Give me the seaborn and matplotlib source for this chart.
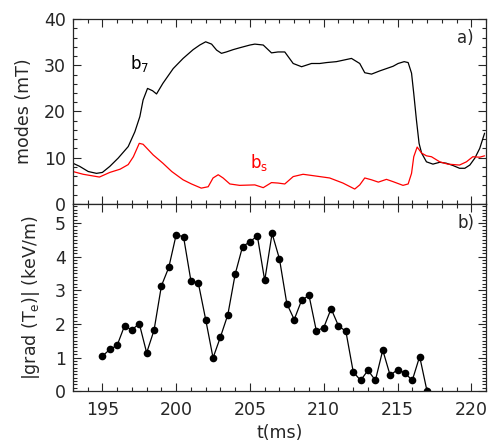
import numpy as np
import pandas as pd
import matplotlib
matplotlib.use("Agg")
import matplotlib.pyplot as plt
from matplotlib.ticker import MultipleLocator
import seaborn as sns

# ---------------------------
# Data
# ---------------------------
t_b7 = [193.0, 193.47, 194.04, 194.6, 195.0, 195.5, 196.07, 196.75, 197.2, 197.54,
        197.76, 198.06, 198.4, 198.67, 199.1, 199.8, 200.47, 201.15, 201.6, 202.0,
        202.4, 202.74, 203.07, 203.4, 203.86, 204.3, 205.0, 205.33, 205.9, 206.46,
        206.9, 207.36, 207.93, 208.5, 209.17, 209.73, 210.19, 210.86, 211.3, 211.88,
        212.44, 212.78, 213.24, 213.8, 214.25, 214.7, 215.04, 215.45, 215.72, 215.95,
        216.1, 216.28, 216.46, 216.63, 216.96, 217.4, 217.86, 218.3, 218.76, 219.2,
        219.56, 219.9, 220.24, 220.57, 220.9]
b7 = [8.8, 8.1, 7.0, 6.6, 6.8, 8.1, 9.9, 12.4, 15.6, 18.9,
      22.5, 25.0, 24.5, 23.8, 26.1, 29.3, 31.5, 33.4, 34.4, 35.1,
      34.6, 33.3, 32.6, 32.9, 33.4, 33.8, 34.4, 34.6, 34.4, 32.7,
      32.9, 32.9, 30.4, 29.7, 30.4, 30.4, 30.6, 30.8, 31.1, 31.5,
      30.4, 28.4, 28.1, 28.8, 29.3, 29.8, 30.4, 30.8, 30.6, 28.3,
      23.9, 18.2, 13.1, 11.0, 9.1, 8.6, 9.0, 8.8, 8.3, 7.7,
      7.7, 8.4, 9.9, 12.0, 15.3]

t_bs = [193.0, 193.7, 194.8, 195.5, 196.2, 196.75, 197.1, 197.5, 197.76, 198.44,
        199.1, 199.7, 200.47, 201.04, 201.7, 202.17, 202.5, 202.85, 203.18, 203.64,
        204.3, 205.33, 205.9, 206.46, 206.9, 207.36, 207.93, 208.6, 209.28, 210.4,
        211.3, 212.1, 212.44, 212.78, 213.24, 213.7, 214.25, 214.7, 215.37, 215.72,
        215.95, 216.1, 216.33, 216.63, 216.96, 217.3, 217.86, 218.4, 219.2, 219.67,
        220.1, 220.57, 220.9]
bs = [7.0, 6.4, 5.8, 6.8, 7.5, 8.5, 10.2, 13.1, 12.9, 10.6,
      8.8, 7.0, 5.2, 4.3, 3.4, 3.7, 5.6, 6.3, 5.6, 4.3,
      4.0, 4.1, 3.5, 4.6, 4.5, 4.3, 5.9, 6.4, 6.1, 5.6,
      4.5, 3.2, 4.1, 5.6, 5.2, 4.7, 5.3, 4.8, 4.0, 4.3,
      6.6, 10.2, 12.3, 11.0, 10.4, 10.2, 9.1, 8.6, 8.4, 9.1,
      10.2, 10.1, 10.4]

t_grad = [195.0, 195.5, 196.0, 196.5, 197.0, 197.5, 198.0, 198.5, 199.0, 199.5,
          200.0, 200.5, 201.0, 201.5, 202.0, 202.5, 203.0, 203.5, 204.0, 204.5,
          205.0, 205.5, 206.0, 206.5, 207.0, 207.5, 208.0, 208.5, 209.0, 209.5,
          210.0, 210.5, 211.0, 211.5, 212.0, 212.5, 213.0, 213.5, 214.0, 214.5,
          215.0, 215.5, 216.0, 216.5, 217.0]
grad_te = [1.04, 1.24, 1.36, 1.94, 1.82, 2.01, 1.14, 1.81, 3.13, 3.68,
           4.65, 4.59, 3.28, 3.22, 2.13, 0.99, 1.61, 2.27, 3.48, 4.30,
           4.44, 4.62, 3.29, 4.69, 3.93, 2.60, 2.13, 2.70, 2.85, 1.79,
           1.89, 2.45, 1.94, 1.78, 0.57, 0.32, 0.62, 0.32, 1.22, 0.47,
           0.64, 0.54, 0.32, 1.03, 0.0]

x_ticks = [195, 200, 205, 210, 215, 220]
ya_ticks = [0, 10, 20, 30, 40]
yb_ticks = [0, 1, 2, 3, 4, 5]

# ---------------------------
# Figure
# ---------------------------
sns.set_style("ticks")
plt.rcParams['font.family'] = ['DejaVu Sans']
plt.rcParams['mathtext.default'] = 'regular'

fig = plt.figure(figsize=(4.89, 4.46), dpi=100)
ax_a = fig.add_axes([0.149, 0.543, 0.845, 0.414])
ax_b = fig.add_axes([0.149, 0.123, 0.845, 0.420])

sns.lineplot(x=t_b7, y=b7, ax=ax_a, color="black", lw=0.9, sort=False)
sns.lineplot(x=t_bs, y=bs, ax=ax_a, color="red", lw=0.9, sort=False)
sns.lineplot(x=t_grad, y=grad_te, ax=ax_b, color="black", lw=0.9, sort=False,
             marker="o", markersize=5.5, markeredgewidth=0, markerfacecolor="black")

ax_a.text(196.9, 30.5, "b$_7$", color="black", fontsize=12, va="center")
ax_a.text(205.0, 8.9, "b$_s$", color="red", fontsize=12, va="center")
ax_a.text(0.93, 0.897, "a)", transform=ax_a.transAxes, fontsize=12, va="center")
ax_b.text(0.93, 0.90, "b)", transform=ax_b.transAxes, fontsize=12, va="center")

for ax in (ax_a, ax_b):
    ax.set_xlim(193, 221)
    ax.set_xticks(x_ticks)
    ax.xaxis.set_minor_locator(MultipleLocator(1))
    ax.tick_params(which="both", direction="in", top=True, right=True,
                   labelsize=12.5, width=0.8)
    ax.tick_params(which="major", length=6)
    ax.tick_params(which="minor", length=3)
    ax.tick_params(axis="x", pad=7)
    ax.tick_params(axis="y", pad=5)
    for sp in ax.spines.values():
        sp.set_linewidth(0.9)

ax_a.set_ylim(0, 40)
ax_a.set_yticks(ya_ticks)
ax_a.yaxis.set_minor_locator(MultipleLocator(2))
ax_a.tick_params(labelbottom=False)
ax_a.set_ylabel("modes (mT)", fontsize=12.5)
ax_a.yaxis.set_label_coords(-0.097, 0.5)

ax_b.set_ylim(0, 5.57)
ax_b.set_yticks(yb_ticks)
ax_b.yaxis.set_minor_locator(MultipleLocator(0.1))
ax_b.set_ylabel("|grad (T$_e$)| (keV/m)", fontsize=12.5)
ax_b.yaxis.set_label_coords(-0.075, 0.5)
ax_b.set_xlabel("t(ms)", fontsize=12.5, labelpad=4)

fig.savefig("out.png", dpi=100)
